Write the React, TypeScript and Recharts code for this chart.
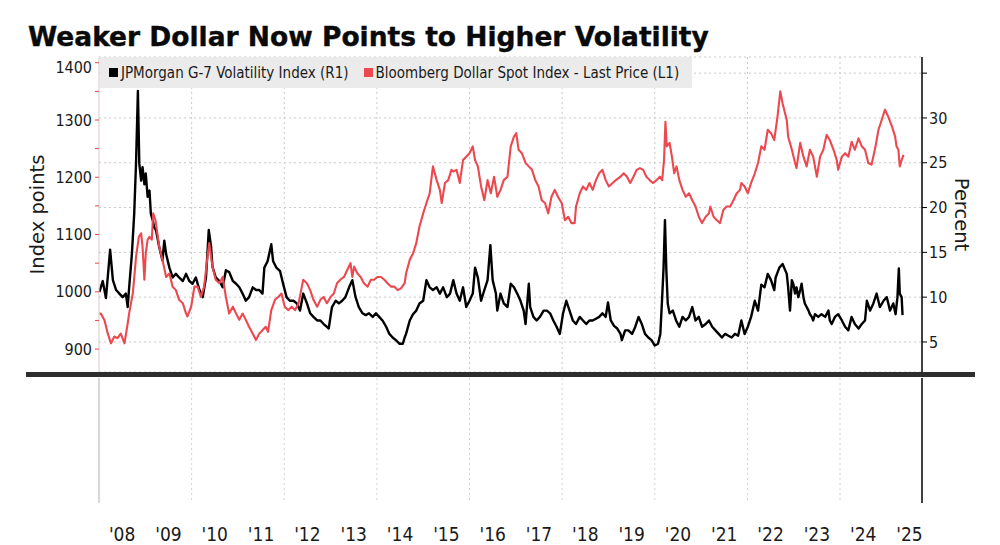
import React from 'react';
import { ComposedChart, Line, XAxis, YAxis, CartesianGrid, Legend, Label } from 'recharts';

const TITLE = 'Weaker Dollar Now Points to Higher Volatility';
const VOL_NAME = 'JPMorgan G-7 Volatility Index (R1)';
const USD_NAME = 'Bloomberg Dollar Spot Index - Last Price (L1)';
const LEFT_TITLE = 'Index points';
const RIGHT_TITLE = 'Percent';

const VOL_COLOR = '#000000';
const USD_COLOR = '#ec4850';

// JPMorgan G-7 Volatility Index (percent, right axis)
const volYears = [
  2008.01, 2008.08, 2008.15, 2008.24, 2008.30, 2008.37, 2008.44, 2008.51, 2008.58, 2008.62, 2008.65, 2008.71, 2008.76, 2008.80, 2008.84, 2008.87, 2008.91, 2008.94, 2008.98,
  2009.01, 2009.05, 2009.09, 2009.12, 2009.16, 2009.19, 2009.23, 2009.30, 2009.37, 2009.41, 2009.45, 2009.52, 2009.59, 2009.66, 2009.73, 2009.81, 2009.88, 2009.95,
  2010.02, 2010.09, 2010.17, 2010.24, 2010.31, 2010.37, 2010.42, 2010.45, 2010.52, 2010.60, 2010.67, 2010.74, 2010.81, 2010.89, 2010.96,
  2011.03, 2011.10, 2011.17, 2011.24, 2011.32, 2011.39, 2011.46, 2011.53, 2011.57, 2011.64, 2011.72, 2011.76, 2011.83, 2011.91, 2011.98,
  2012.05, 2012.12, 2012.20, 2012.27, 2012.34, 2012.38, 2012.41, 2012.49, 2012.56, 2012.63, 2012.71, 2012.78, 2012.85, 2012.92, 2012.96,
  2013.03, 2013.11, 2013.18, 2013.25, 2013.32, 2013.40, 2013.47, 2013.54, 2013.61, 2013.69, 2013.76, 2013.83, 2013.91, 2013.98,
  2014.05, 2014.12, 2014.20, 2014.27, 2014.34, 2014.41, 2014.49, 2014.56, 2014.60, 2014.63, 2014.71, 2014.78, 2014.85, 2014.92, 2015.00,
  2015.07, 2015.14, 2015.21, 2015.29, 2015.36, 2015.43, 2015.51, 2015.58, 2015.65, 2015.72, 2015.79, 2015.86, 2015.93,
  2016.00, 2016.07, 2016.12, 2016.18, 2016.25, 2016.32, 2016.39, 2016.45, 2016.50, 2016.57, 2016.60, 2016.67, 2016.74, 2016.82, 2016.89, 2016.96,
  2017.03, 2017.10, 2017.17, 2017.21, 2017.28, 2017.31, 2017.38, 2017.45, 2017.52, 2017.60, 2017.67, 2017.74, 2017.81, 2017.88, 2017.95,
  2018.02, 2018.09, 2018.16, 2018.23, 2018.30, 2018.38, 2018.45, 2018.52, 2018.59, 2018.66, 2018.73, 2018.80, 2018.87, 2018.94, 2018.99,
  2019.05, 2019.12, 2019.19, 2019.26, 2019.29, 2019.36, 2019.43, 2019.51, 2019.58, 2019.65, 2019.72, 2019.79, 2019.86, 2019.93,
  2020.00, 2020.07, 2020.12, 2020.16, 2020.19, 2020.22, 2020.25, 2020.28, 2020.32, 2020.39, 2020.46, 2020.53, 2020.60, 2020.67, 2020.74, 2020.81, 2020.88, 2020.95,
  2021.02, 2021.10, 2021.17, 2021.24, 2021.31, 2021.38, 2021.45, 2021.52, 2021.59, 2021.66, 2021.73, 2021.80, 2021.87, 2021.94,
  2022.01, 2022.08, 2022.16, 2022.23, 2022.30, 2022.37, 2022.44, 2022.51, 2022.58, 2022.61, 2022.69, 2022.76, 2022.85, 2022.88, 2022.92, 2022.96, 2022.99,
  2023.03, 2023.06, 2023.10, 2023.14, 2023.17, 2023.21, 2023.24, 2023.28, 2023.32, 2023.35, 2023.39, 2023.42, 2023.46, 2023.53, 2023.60, 2023.68, 2023.75, 2023.78, 2023.82, 2023.89, 2023.96,
  2024.04, 2024.11, 2024.18, 2024.25, 2024.32, 2024.40, 2024.47, 2024.54, 2024.58, 2024.65, 2024.72, 2024.79, 2024.86, 2024.94,
  2025.01, 2025.08, 2025.15, 2025.20, 2025.24, 2025.27, 2025.29, 2025.33, 2025.35,
];
const volValues = [
  10.6, 11.8, 9.9, 15.3, 11.9, 10.8, 10.4, 10.0, 10.4, 8.9, 11.0, 14.8, 19.3, 25.0, 33.0, 24.9, 23.0, 24.5, 22.6,
  23.8, 21.2, 21.9, 19.3, 18.6, 17.8, 17.5, 15.6, 14.1, 16.3, 14.8, 13.3, 12.2, 12.6, 12.2, 11.8, 12.6, 11.8,
  11.5, 12.2, 10.8, 10.0, 12.2, 17.5, 15.6, 13.4, 12.2, 11.8, 11.1, 13.0, 12.8, 11.8, 11.5,
  11.1, 10.4, 9.6, 10.0, 11.1, 10.8, 10.8, 10.4, 13.3, 14.0, 15.9, 14.0, 13.3, 12.9, 11.4,
  10.0, 9.6, 9.6, 9.3, 8.5, 9.6, 10.4, 9.3, 8.2, 7.8, 7.4, 7.4, 7.0, 6.7, 6.5,
  8.9, 9.6, 9.3, 9.6, 10.0, 11.1, 11.9, 10.0, 8.9, 8.2, 8.0, 8.2, 7.8, 8.2,
  7.8, 7.4, 6.7, 5.9, 5.5, 5.2, 4.8, 4.8, 5.5, 5.9, 7.4, 8.1, 8.5, 9.3, 9.6,
  11.9, 11.1, 10.8, 11.1, 10.4, 11.1, 10.0, 10.4, 11.9, 10.4, 9.6, 11.1, 8.9,
  9.6, 10.4, 13.3, 12.2, 9.6, 10.8, 11.9, 15.8, 11.9, 10.4, 8.5, 10.4, 9.3, 8.9, 11.5, 11.1,
  10.4, 9.6, 8.5, 7.0, 11.5, 8.9, 7.8, 7.4, 7.8, 8.5, 8.5, 8.2, 7.4, 6.7, 5.9,
  8.2, 9.6, 8.5, 7.4, 7.0, 7.8, 7.4, 7.0, 7.4, 7.4, 7.6, 7.8, 8.2, 7.8, 9.4,
  7.4, 6.8, 6.5, 5.9, 5.2, 6.3, 6.3, 5.9, 6.7, 7.8, 7.0, 5.9, 5.5, 5.2,
  4.6, 4.8, 5.9, 10.0, 13.3, 18.6, 13.0, 9.3, 8.2, 8.5, 7.4, 6.7, 7.8, 7.4, 7.8, 8.9, 7.4, 7.8,
  6.7, 7.0, 7.4, 6.7, 6.3, 5.9, 5.5, 5.9, 5.7, 5.5, 5.9, 5.7, 7.4, 5.9,
  6.7, 7.8, 9.6, 8.5, 11.4, 11.1, 12.6, 11.9, 10.8, 12.2, 13.3, 13.7, 12.6, 11.1, 8.5, 11.9, 11.5,
  10.4, 11.1, 10.0, 10.8, 11.5, 10.0, 9.3, 8.9, 8.5, 8.1, 7.8, 7.4, 8.1, 7.8, 8.1, 7.8, 8.5, 7.4, 7.0, 7.8, 8.1,
  7.4, 6.7, 6.3, 7.8, 7.0, 6.5, 7.0, 7.4, 9.6, 8.5, 9.3, 10.4, 8.9, 9.6,
  10.0, 8.5, 9.3, 8.1, 10.0, 13.2, 10.4, 10.0, 8.0,
];

// Bloomberg Dollar Spot Index (index points, left axis)
const usdYears = [
  2008.01, 2008.04, 2008.12, 2008.19, 2008.26, 2008.33, 2008.40, 2008.47, 2008.55, 2008.62, 2008.65, 2008.73, 2008.80, 2008.86, 2008.91, 2008.94, 2008.98,
  2009.01, 2009.05, 2009.09, 2009.14, 2009.17, 2009.22, 2009.27, 2009.30, 2009.37, 2009.45, 2009.52, 2009.59, 2009.66, 2009.73, 2009.81, 2009.88, 2009.91, 2009.99,
  2010.06, 2010.13, 2010.20, 2010.27, 2010.35, 2010.38, 2010.45, 2010.52, 2010.60, 2010.67, 2010.74, 2010.81, 2010.89, 2010.96,
  2011.03, 2011.10, 2011.17, 2011.24, 2011.32, 2011.39, 2011.46, 2011.53, 2011.60, 2011.65, 2011.72, 2011.80, 2011.87, 2011.94,
  2012.01, 2012.09, 2012.16, 2012.23, 2012.31, 2012.38, 2012.41, 2012.49, 2012.56, 2012.63, 2012.71, 2012.78, 2012.85, 2012.92, 2013.00,
  2013.07, 2013.14, 2013.21, 2013.29, 2013.36, 2013.43, 2013.47, 2013.51, 2013.58, 2013.65, 2013.72, 2013.80, 2013.87, 2013.94,
  2014.01, 2014.09, 2014.16, 2014.23, 2014.31, 2014.38, 2014.45, 2014.52, 2014.60, 2014.63, 2014.71, 2014.78, 2014.85, 2014.92, 2015.00,
  2015.07, 2015.14, 2015.21, 2015.29, 2015.36, 2015.40, 2015.47, 2015.54, 2015.61, 2015.65, 2015.72, 2015.79, 2015.86, 2015.93,
  2016.00, 2016.07, 2016.12, 2016.18, 2016.25, 2016.32, 2016.39, 2016.46, 2016.53, 2016.60, 2016.67, 2016.74, 2016.82, 2016.89, 2016.96,
  2017.01, 2017.06, 2017.13, 2017.21, 2017.28, 2017.35, 2017.42, 2017.49, 2017.56, 2017.63, 2017.70, 2017.77, 2017.84, 2017.91, 2017.99,
  2018.06, 2018.13, 2018.20, 2018.27, 2018.30, 2018.38, 2018.45, 2018.52, 2018.59, 2018.66, 2018.73, 2018.80, 2018.87, 2018.94,
  2019.01, 2019.09, 2019.16, 2019.26, 2019.33, 2019.40, 2019.47, 2019.54, 2019.61, 2019.68, 2019.75, 2019.82, 2019.89, 2019.96,
  2020.04, 2020.11, 2020.16, 2020.20, 2020.23, 2020.26, 2020.32, 2020.37, 2020.42, 2020.47, 2020.53, 2020.60, 2020.67, 2020.74, 2020.81, 2020.88, 2020.95,
  2021.02, 2021.10, 2021.17, 2021.20, 2021.27, 2021.34, 2021.41, 2021.48, 2021.55, 2021.63, 2021.70, 2021.77, 2021.84, 2021.87, 2021.94,
  2022.01, 2022.08, 2022.16, 2022.23, 2022.30, 2022.37, 2022.44, 2022.51, 2022.58, 2022.65, 2022.71, 2022.76, 2022.85, 2022.88, 2022.96,
  2023.03, 2023.06, 2023.14, 2023.21, 2023.28, 2023.35, 2023.42, 2023.50, 2023.57, 2023.64, 2023.71, 2023.78, 2023.86, 2023.93, 2023.96,
  2024.04, 2024.11, 2024.18, 2024.25, 2024.32, 2024.40, 2024.47, 2024.54, 2024.61, 2024.68, 2024.76, 2024.83, 2024.90, 2024.97,
  2025.04, 2025.12, 2025.19, 2025.22, 2025.26, 2025.29, 2025.33, 2025.37,
];
const usdValues = [
  962, 962, 950, 927, 910, 922, 919, 927, 910, 945, 962, 997, 1061, 1096, 1102, 1079, 1021,
  1067, 1091, 1096, 1091, 1137, 1125, 1096, 1079, 1056, 1026, 1032, 1009, 1003, 986, 980, 962, 957, 974,
  1009, 1009, 991, 1009, 1067, 1085, 1044, 1021, 1015, 1026, 991, 962, 974, 962,
  951, 962, 951, 939, 927, 916, 927, 933, 939, 930, 968, 986, 991, 997,
  974, 968, 974, 968, 980, 1009, 1021, 1015, 1003, 986, 974, 986, 991, 980, 991,
  997, 1015, 1021, 1026, 1038, 1050, 1026, 1044, 1032, 1026, 1015, 1009, 1021, 1021,
  1026, 1026, 1021, 1015, 1009, 1009, 1003, 1006, 1015, 1032, 1056, 1067, 1085, 1114, 1137,
  1155, 1172, 1219, 1195, 1178, 1155, 1190, 1195, 1213, 1210, 1213, 1190, 1230, 1236,
  1242, 1254, 1230, 1219, 1184, 1160, 1195, 1172, 1201, 1166, 1178, 1195, 1201, 1254, 1271,
  1277, 1248, 1242, 1225, 1219, 1213, 1195, 1184, 1160, 1155, 1137, 1166, 1178, 1166, 1155,
  1125, 1131, 1120, 1120, 1149, 1172, 1184, 1178, 1190, 1178, 1195, 1207, 1213, 1195,
  1184, 1190, 1195, 1201, 1207, 1201, 1190, 1201, 1213, 1216, 1213, 1201, 1195, 1190,
  1195, 1201, 1195, 1230, 1297, 1254, 1260, 1236, 1207, 1219, 1195, 1178, 1166, 1172, 1160, 1149, 1131,
  1120, 1131, 1137, 1149, 1131, 1125, 1120, 1143, 1149, 1149, 1160, 1172, 1178, 1190, 1184,
  1172, 1190, 1207, 1225, 1254, 1248, 1283, 1277, 1265, 1306, 1350, 1329, 1300, 1271, 1248,
  1225, 1216, 1260, 1236, 1219, 1248, 1236, 1201, 1236, 1248, 1274, 1265, 1248, 1230, 1213,
  1236, 1242, 1236, 1262, 1248, 1268, 1254, 1248, 1225, 1222, 1251, 1283, 1300, 1318,
  1306, 1289, 1271, 1254, 1248, 1219, 1230, 1239,
];

const leftTicks = [900, 950, 1000, 1050, 1100, 1150, 1200, 1250, 1300, 1350, 1400];
const rightTicks = [5, 10, 15, 20, 25, 30, 35];
const yearTicks = [2008.5, 2009.5, 2010.5, 2011.5, 2012.5, 2013.5, 2014.5, 2015.5, 2016.5, 2017.5, 2018.5, 2019.5, 2020.5, 2021.5, 2022.5, 2023.5, 2024.5, 2025.5];
const yearLabels = ["'08", "'09", "'10", "'11", "'12", "'13", "'14", "'15", "'16", "'17", "'18", "'19", "'20", "'21", "'22", "'23", "'24", "'25"];
const gridYears = [2010, 2012, 2014, 2016, 2018, 2020, 2022, 2024];

const volData = volYears.map((t, i) => ({ t, v: volValues[i] }));
const usdData = usdYears.map((t, i) => ({ t, v: usdValues[i] }));

const X_DOMAIN: [number, number] = [2008, 2025.77];
const LEFT_DOMAIN: [number, number] = [860, 1410];
const RIGHT_DOMAIN: [number, number] = [1.65, 36.8];
const TICK_FONT = "'DejaVu Sans Condensed', 'DejaVu Sans', sans-serif";
const NARROW_FONT = "'Liberation Sans Narrow', 'DejaVu Sans Condensed', sans-serif";
const TEXT_FONT = "'DejaVu Sans', sans-serif";

const tickStyle = { fill: '#1a1a1a', fontSize: 16, fontFamily: TICK_FONT, fontStretch: 'condensed' as const };
const yearTickStyle = { fill: '#1a1a1a', fontSize: 19, fontFamily: NARROW_FONT, fontStretch: 'condensed' as const };

// Left-axis tick: the top label sits a little below its tick, as in the original
const LeftTick = (props: any) => {
  const { x, y, payload } = props;
  const v = payload?.value;
  if (v % 100 !== 0) return null;
  const shift = v === LEFT_DOMAIN[1] - 10 ? 5 : 0;
  return (
    <text x={x} y={y + shift} dy="0.355em" textAnchor="end" fontSize={16} fontFamily={TICK_FONT} fontStretch="condensed" fill="#1a1a1a">
      {String(v)}
    </text>
  );
};

const LeftTitle = (props: any) => {
  const vb = props.viewBox || { x: 39, y: 57, width: 60, height: 315 };
  const x = vb.x + 5;
  const y = vb.y + vb.height / 2;
  return (
    <text x={x} y={y} transform={`rotate(-90 ${x} ${y})`} textAnchor="middle" fontSize={19.5} fontFamily={TEXT_FONT} fill="#1a1a1a">
      {LEFT_TITLE}
    </text>
  );
};

const RightTitle = (props: any) => {
  const vb = props.viewBox || { x: 922, y: 57, width: 60, height: 315 };
  const x = vb.x + 33;
  const y = vb.y + vb.height / 2;
  return (
    <text x={x} y={y} transform={`rotate(90 ${x} ${y})`} textAnchor="middle" fontSize={19.5} fontFamily={TEXT_FONT} fill="#1a1a1a">
      {RIGHT_TITLE}
    </text>
  );
};

const LegendBox = () => (
  <div
    style={{
      width: '100%',
      height: '100%',
      background: '#ebebeb',
      display: 'flex',
      alignItems: 'center',
      boxSizing: 'border-box',
      paddingLeft: 9,
      fontFamily: TICK_FONT,
      fontStretch: 'condensed',
      fontSize: 15,
      color: '#1a1a1a',
      whiteSpace: 'nowrap',
    }}
  >
    <span style={{ display: 'inline-block', width: 9, height: 9, background: VOL_COLOR, marginRight: 3 }} />
    <span>{VOL_NAME}</span>
    <span style={{ display: 'inline-block', width: 9, height: 9, background: USD_COLOR, marginLeft: 15, marginRight: 3 }} />
    <span>{USD_NAME}</span>
  </div>
);

export default function App() {
  return (
    <div style={{ position: 'absolute', left: 0, top: 0, width: 1000, height: 545, background: '#ffffff', overflow: 'hidden' }}>
      <svg width={1000} height={56} style={{ position: 'absolute', left: 0, top: 0 }}>
        <text x={28} y={45.5} fontSize={26.5} fontWeight="bold" fontFamily={TEXT_FONT} fill="#0a0a0a" stroke="#0a0a0a" strokeWidth={0.4}>
          {TITLE}
        </text>
      </svg>

      <div style={{ position: 'absolute', left: 0, top: 0 }}>
        <ComposedChart width={1000} height={380} margin={{ top: 57, right: 18, bottom: 8, left: 39 }}>
          <CartesianGrid
            yAxisId="right"
            horizontal
            vertical
            verticalValues={gridYears}
            stroke="#c8c8c8"
            strokeDasharray="2 3"
          />
          <XAxis type="number" dataKey="t" domain={X_DOMAIN} allowDataOverflow hide />
          <YAxis
            yAxisId="left"
            orientation="left"
            width={60}
            domain={LEFT_DOMAIN}
            allowDataOverflow
            ticks={leftTicks}
            interval={0}
            tickSize={4}
            tickMargin={3}
            tickLine={{ stroke: '#e8454d' }}
            axisLine={{ stroke: '#dcc6c6' }}
            tick={<LeftTick />}
          >
            <Label content={<LeftTitle />} />
          </YAxis>
          <YAxis
            yAxisId="right"
            orientation="right"
            width={60}
            domain={RIGHT_DOMAIN}
            allowDataOverflow
            ticks={rightTicks}
            interval={0}
            tickFormatter={(v: number) => (v === 35 ? '' : String(v))}
            tickSize={5}
            tickMargin={2}
            tickLine={{ stroke: '#000' }}
            axisLine={{ stroke: '#000', strokeWidth: 1.5 }}
            tick={tickStyle}
          >
            <Label content={<RightTitle />} />
          </YAxis>
          <Legend
            layout="vertical"
            align="center"
            verticalAlign="middle"
            wrapperStyle={{ top: 57, left: 100, width: 592, height: 31, margin: 0 }}
            content={<LegendBox />}
          />
          <Line
            yAxisId="right"
            data={volData}
            dataKey="v"
            name={VOL_NAME}
            type="linear"
            stroke={VOL_COLOR}
            strokeWidth={2.4}
            strokeLinejoin="round"
            dot={false}
            activeDot={false}
            isAnimationActive={false}
          />
          <Line
            yAxisId="left"
            data={usdData}
            dataKey="v"
            name={USD_NAME}
            type="linear"
            stroke={USD_COLOR}
            strokeWidth={2.1}
            strokeLinejoin="round"
            dot={false}
            activeDot={false}
            isAnimationActive={false}
          />
        </ComposedChart>
      </div>

      <div style={{ position: 'absolute', left: 0, top: 378 }}>
        <ComposedChart width={1000} height={167} data={volData} margin={{ top: 0, right: 18, bottom: 12, left: 39 }}>
          <CartesianGrid horizontal={false} vertical verticalValues={gridYears} stroke="#d2d2d2" strokeDasharray="2 3" />
          <XAxis
            type="number"
            dataKey="t"
            domain={X_DOMAIN}
            allowDataOverflow
            ticks={yearTicks}
            interval={0}
            tickFormatter={(v: number) => yearLabels[yearTicks.indexOf(v)] ?? ''}
            axisLine={false}
            tickLine={false}
            tickSize={0}
            tickMargin={25}
            height={30}
            tick={yearTickStyle}
          />
          <YAxis yAxisId="left" orientation="left" width={60} domain={[0, 1]} tick={false} tickLine={false} axisLine={{ stroke: '#b0b0b0' }} />
          <YAxis yAxisId="right" orientation="right" width={60} domain={[0, 1]} tick={false} tickLine={false} axisLine={{ stroke: '#000', strokeWidth: 1.5 }} />
        </ComposedChart>
      </div>

      <div style={{ position: 'absolute', left: 26, top: 372, width: 949, height: 5, background: '#2e2e2e' }} />
    </div>
  );
}
